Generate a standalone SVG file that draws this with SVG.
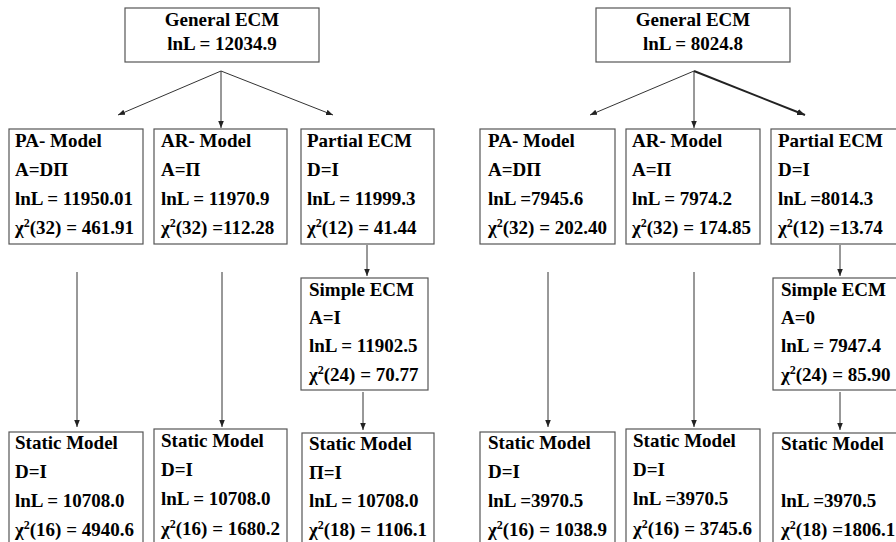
<svg xmlns="http://www.w3.org/2000/svg" width="896" height="542" viewBox="0 0 896 542">
<style>
  .box { fill: #ffffff; stroke: #555555; stroke-width: 1.2; }
  .t { font-family: 'Liberation Serif', 'Times New Roman', 'DejaVu Serif', serif; font-weight: bold; font-size: 19px; fill: #000000; }
  .c { text-anchor: middle; }
  .ln { stroke: #333333; stroke-width: 1; fill: none; }
  .ln2 { stroke: #222222; stroke-width: 2; fill: none; }
</style>
<defs>
  <marker id="ah" viewBox="0 0 8 8" refX="8" refY="4" markerWidth="7" markerHeight="7" markerUnits="userSpaceOnUse" orient="auto">
    <path d="M0,0.8 L8,4 L0,7.2 Z" fill="#222222"/>
  </marker>
  <marker id="ah2" viewBox="0 0 8 8" refX="8" refY="4" markerWidth="8" markerHeight="8" markerUnits="userSpaceOnUse" orient="auto">
    <path d="M0,0.8 L8,4 L0,7.2 Z" fill="#222222"/>
  </marker>
</defs>
<rect width="896" height="542" fill="#ffffff"/>

<g id="connectors">
  <line class="ln" x1="221" y1="71" x2="118" y2="115" marker-end="url(#ah)"/>
  <line class="ln" x1="221" y1="71" x2="221" y2="128" marker-end="url(#ah)"/>
  <line class="ln" x1="221" y1="71" x2="333" y2="115" marker-end="url(#ah)"/>
  <line class="ln" x1="77" y1="272" x2="77" y2="427" marker-end="url(#ah)"/>
  <line class="ln" x1="222" y1="272" x2="222" y2="427" marker-end="url(#ah)"/>
  <line class="ln" x1="367" y1="245" x2="367" y2="276" marker-end="url(#ah)"/>
  <line class="ln" x1="363" y1="392" x2="363" y2="430" marker-end="url(#ah)"/>

  <line class="ln" x1="694" y1="71" x2="590" y2="115" marker-end="url(#ah)"/>
  <line class="ln" x1="694" y1="71" x2="694" y2="128" marker-end="url(#ah)"/>
  <line class="ln2" x1="694" y1="71" x2="805" y2="115" marker-end="url(#ah2)"/>
  <line class="ln" x1="548" y1="272" x2="548" y2="427" marker-end="url(#ah)"/>
  <line class="ln" x1="694" y1="272" x2="694" y2="427" marker-end="url(#ah)"/>
  <line class="ln" x1="840" y1="245" x2="840" y2="276" marker-end="url(#ah)"/>
  <line class="ln" x1="840" y1="392" x2="840" y2="430" marker-end="url(#ah)"/>
</g>

<!-- Left tree -->
<g id="L-general">
  <rect class="box" x="125" y="8" width="194" height="54"/>
  <text class="t c" x="222" y="26">General ECM</text>
  <text class="t c" x="222" y="50">lnL = 12034.9</text>
</g>
<g id="L-pa">
  <rect class="box" x="9" y="129" width="134" height="115"/>
  <text class="t" x="15" y="147">PA- Model</text>
  <text class="t" x="15" y="176">A=DΠ</text>
  <text class="t" x="15" y="205">lnL = 11950.01</text>
  <text class="t" x="15" y="234">χ<tspan font-size="12" dy="-7">2</tspan><tspan dy="7">(32) = 461.91</tspan></text>
</g>
<g id="L-ar">
  <rect class="box" x="154" y="129" width="133" height="115"/>
  <text class="t" x="161" y="147">AR- Model</text>
  <text class="t" x="161" y="176">A=Π</text>
  <text class="t" x="161" y="205">lnL = 11970.9</text>
  <text class="t" x="161" y="234">χ<tspan font-size="12" dy="-7">2</tspan><tspan dy="7">(32) =112.28</tspan></text>
</g>
<g id="L-partial">
  <rect class="box" x="301" y="129" width="133" height="115"/>
  <text class="t" x="307" y="147">Partial ECM</text>
  <text class="t" x="307" y="176">D=I</text>
  <text class="t" x="307" y="205">lnL = 11999.3</text>
  <text class="t" x="307" y="234">χ<tspan font-size="12" dy="-7">2</tspan><tspan dy="7">(12) = 41.44</tspan></text>
</g>
<g id="L-simple">
  <rect class="box" x="301" y="278" width="127" height="112"/>
  <text class="t" x="309" y="296">Simple ECM</text>
  <text class="t" x="309" y="324">A=I</text>
  <text class="t" x="309" y="352">lnL = 11902.5</text>
  <text class="t" x="309" y="381">χ<tspan font-size="12" dy="-7">2</tspan><tspan dy="7">(24) = 70.77</tspan></text>
</g>
<g id="L-static1">
  <rect class="box" x="9" y="432" width="134" height="125"/>
  <text class="t" x="15" y="449">Static Model</text>
  <text class="t" x="15" y="478">D=I</text>
  <text class="t" x="15" y="507">lnL = 10708.0</text>
  <text class="t" x="15" y="536">χ<tspan font-size="12" dy="-7">2</tspan><tspan dy="7">(16) = 4940.6</tspan></text>
</g>
<g id="L-static2">
  <rect class="box" x="154" y="429" width="133" height="125"/>
  <text class="t" x="161" y="447">Static Model</text>
  <text class="t" x="161" y="476">D=I</text>
  <text class="t" x="161" y="505">lnL = 10708.0</text>
  <text class="t" x="161" y="535">χ<tspan font-size="12" dy="-7">2</tspan><tspan dy="7">(16) = 1680.2</tspan></text>
</g>
<g id="L-static3">
  <rect class="box" x="302" y="433" width="132" height="125"/>
  <text class="t" x="309" y="450">Static Model</text>
  <text class="t" x="309" y="479">Π=I</text>
  <text class="t" x="309" y="507">lnL = 10708.0</text>
  <text class="t" x="309" y="536">χ<tspan font-size="12" dy="-7">2</tspan><tspan dy="7">(18) = 1106.1</tspan></text>
</g>

<!-- Right tree -->
<g id="R-general">
  <rect class="box" x="596" y="8" width="194" height="54"/>
  <text class="t c" x="693" y="26">General ECM</text>
  <text class="t c" x="693" y="50">lnL = 8024.8</text>
</g>
<g id="R-pa">
  <rect class="box" x="480" y="129" width="135" height="115"/>
  <text class="t" x="488" y="147">PA- Model</text>
  <text class="t" x="488" y="176">A=DΠ</text>
  <text class="t" x="488" y="205">lnL =7945.6</text>
  <text class="t" x="488" y="234">χ<tspan font-size="12" dy="-7">2</tspan><tspan dy="7">(32) = 202.40</tspan></text>
</g>
<g id="R-ar">
  <rect class="box" x="626" y="129" width="134" height="115"/>
  <text class="t" x="632" y="147">AR- Model</text>
  <text class="t" x="632" y="176">A=Π</text>
  <text class="t" x="632" y="205">lnL = 7974.2</text>
  <text class="t" x="632" y="234">χ<tspan font-size="12" dy="-7">2</tspan><tspan dy="7">(32) = 174.85</tspan></text>
</g>
<g id="R-partial">
  <rect class="box" x="771" y="129" width="134" height="115"/>
  <text class="t" x="778" y="147">Partial ECM</text>
  <text class="t" x="778" y="176">D=I</text>
  <text class="t" x="778" y="205">lnL =8014.3</text>
  <text class="t" x="778" y="234">χ<tspan font-size="12" dy="-7">2</tspan><tspan dy="7">(12) =13.74</tspan></text>
</g>
<g id="R-simple">
  <rect class="box" x="773" y="278" width="130" height="112"/>
  <text class="t" x="781" y="296">Simple ECM</text>
  <text class="t" x="781" y="324">A=0</text>
  <text class="t" x="781" y="352">lnL = 7947.4</text>
  <text class="t" x="781" y="381">χ<tspan font-size="12" dy="-7">2</tspan><tspan dy="7">(24) = 85.90</tspan></text>
</g>
<g id="R-static1">
  <rect class="box" x="480" y="432" width="135" height="125"/>
  <text class="t" x="488" y="449">Static Model</text>
  <text class="t" x="488" y="478">D=I</text>
  <text class="t" x="488" y="507">lnL =3970.5</text>
  <text class="t" x="488" y="536">χ<tspan font-size="12" dy="-7">2</tspan><tspan dy="7">(16) = 1038.9</tspan></text>
</g>
<g id="R-static2">
  <rect class="box" x="626" y="429" width="134" height="125"/>
  <text class="t" x="633" y="447">Static Model</text>
  <text class="t" x="633" y="476">D=I</text>
  <text class="t" x="633" y="505">lnL =3970.5</text>
  <text class="t" x="633" y="535">χ<tspan font-size="12" dy="-7">2</tspan><tspan dy="7">(16) = 3745.6</tspan></text>
</g>
<g id="R-static3">
  <rect class="box" x="773" y="433" width="134" height="125"/>
  <text class="t" x="781" y="450">Static Model</text>
  <text class="t" x="781" y="507">lnL =3970.5</text>
  <text class="t" x="781" y="536">χ<tspan font-size="12" dy="-7">2</tspan><tspan dy="7">(18) =1806.1</tspan></text>
</g>
</svg>
